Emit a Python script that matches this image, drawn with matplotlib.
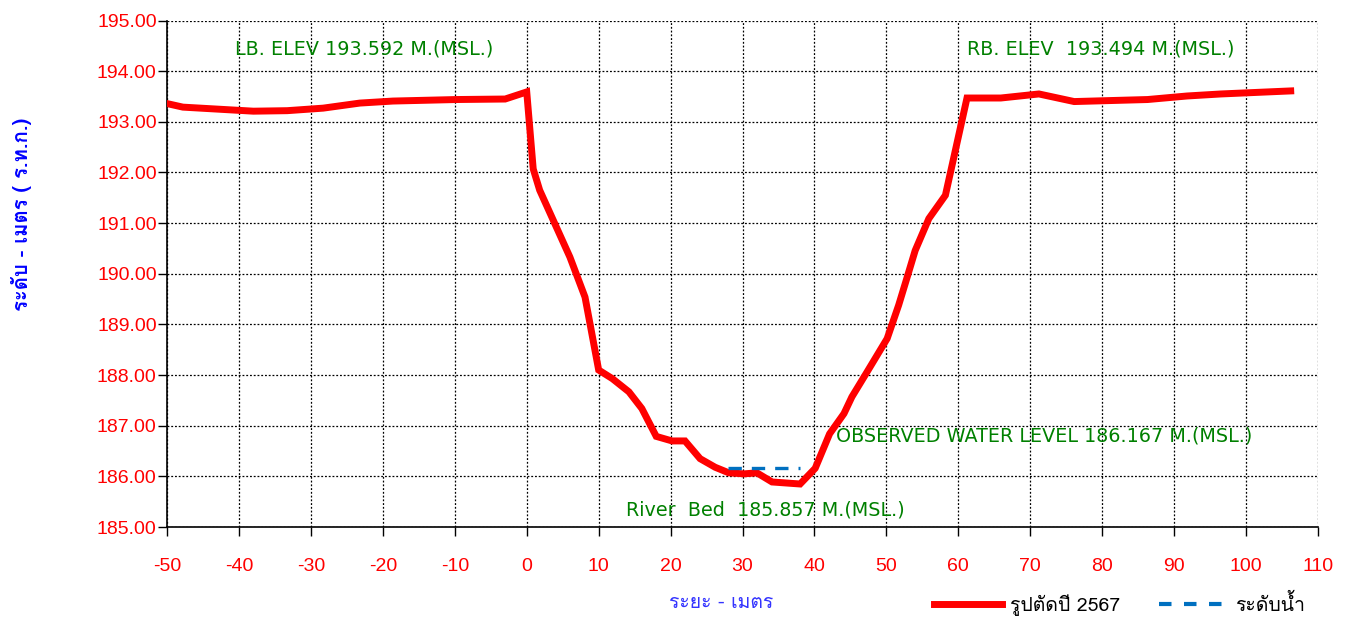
import matplotlib
matplotlib.use("Agg")
import matplotlib.pyplot as plt
from matplotlib.lines import Line2D

# cross section (distance m, elevation m MSL)
dist = [-50, -47.8, -38.0, -33.3, -28.3, -23.2, -18.6, -9.8, -3.0, 0.0,
        0.9, 1.8, 3.9, 6.0, 8.1, 10.0, 11.9, 14.2, 16.0, 18.0,
        20.2, 22.0, 24.1, 26.2, 28.1, 30.2, 32.0, 34.1, 38.0, 40.1,
        42.1, 44.1, 45.2, 47.3, 50.1, 51.7, 52.9, 54.0, 55.9, 58.2,
        61.2, 65.9, 71.2, 76.1, 86.3, 91.8, 96.5, 106.2]
elev = [193.36, 193.29, 193.21, 193.22, 193.27, 193.37, 193.41, 193.44, 193.45, 193.59,
        192.07, 191.65, 190.99, 190.33, 189.54, 188.10, 187.93, 187.67, 187.34, 186.79,
        186.70, 186.70, 186.35, 186.18, 186.07, 186.05, 186.07, 185.89, 185.85, 186.16,
        186.84, 187.24, 187.57, 188.06, 188.72, 189.38, 189.94, 190.46, 191.09, 191.55,
        193.47, 193.47, 193.55, 193.40, 193.44, 193.51, 193.55, 193.61]

water_x = [28, 38]
water_level = 186.167

xticks = list(range(-50, 111, 10))
yticks = list(range(185, 196))

thai_fonts = ["Tahoma", "Loma", "Garuda", "Norasi", "Noto Sans Thai",
              "Noto Sans Thai Looped", "Sarabun", "Waree", "Kinnari", "DejaVu Sans"]
plt.rcParams["font.family"] = thai_fonts
plt.rcParams["axes.unicode_minus"] = False

fig = plt.figure(figsize=(13.56, 6.35), dpi=100)
ax = fig.add_axes([0.1232, 0.170, 0.8488, 0.7977])

ax.plot(dist, elev, color="#ff0000", lw=5, solid_joinstyle="miter",
        label="รูปตัดปี 2567", zorder=3)
ax.plot(water_x, [water_level] * 2, color="#0070c0", lw=2.4,
        dashes=(4, 3), label="ระดับน้ำ", zorder=4)

ax.set_xlim(-50, 110)
ax.set_ylim(185, 195)
ax.set_xticks(xticks)
ax.set_yticks(yticks)
ax.set_yticklabels([f"{v:.2f}" for v in yticks])
ax.tick_params(axis="both", direction="out", length=6.5, width=1,
               labelcolor="#ff0000", labelsize=14)
for lab in ax.get_xticklabels() + ax.get_yticklabels():
    lab.set_family(["Liberation Sans", "DejaVu Sans"])
ax.tick_params(axis="x", pad=16)
ax.tick_params(axis="y", pad=1)

ax.grid(True, color="black", ls=(0, (1.5, 1.5)), lw=0.9)
for s in ["top", "right"]:
    ax.spines[s].set_visible(False)
ax.spines["left"].set_linewidth(1.2)
ax.spines["bottom"].set_linewidth(1.2)

green = "#008000"
txt_kw = dict(color=green, fontsize=13.8, family=["DejaVu Sans"], va="center")
ax.text(-40.5, 194.43, "LB. ELEV 193.592 M.(MSL.)", **txt_kw)
ax.text(61.2, 194.43, "RB. ELEV  193.494 M.(MSL.)", **txt_kw)
ax.text(43.0, 186.80, "OBSERVED WATER LEVEL 186.167 M.(MSL.)", **txt_kw)
ax.text(13.8, 185.33, "River  Bed  185.857 M.(MSL.)", **txt_kw)

fig.text(0.532, 0.05, "ระยะ - เมตร", color="#3333ff", fontsize=14,
         ha="center", va="center")
fig.text(0.016, 0.662, "ระดับ - เมตร ( ร.ท.ก.)", color="#0000ff", fontsize=14.6,
         fontweight="bold", rotation=90, ha="center", va="center")

handles = [Line2D([], [], color="#ff0000", lw=5),
           Line2D([], [], color="#0070c0", lw=3, dashes=(3, 3))]
fig.legend(handles, ["รูปตัดปี 2567", "ระดับน้ำ"], loc="center right",
           bbox_to_anchor=(0.975, 0.048), ncol=2, frameon=False, fontsize=14,
           handlelength=3.5, handletextpad=0.4, columnspacing=2.0)

fig.savefig("out.png", dpi=100)
